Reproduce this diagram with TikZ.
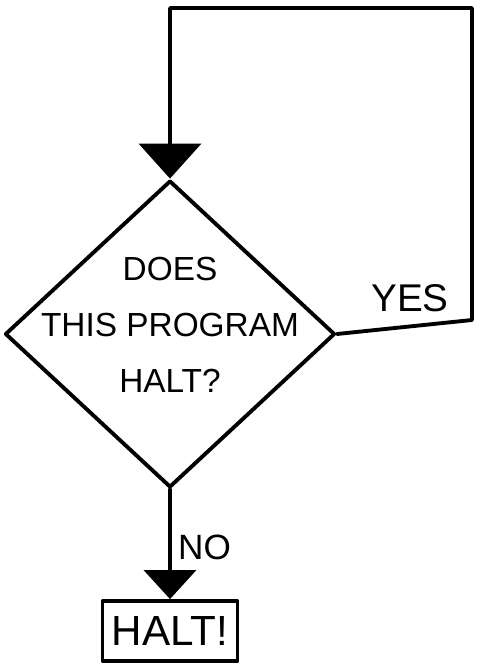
\documentclass[tikz,border=0pt]{standalone}
\usepackage{fontspec}
\setmainfont{Liberation Sans}
\usetikzlibrary{arrows.meta, shapes.geometric}

\begin{document}
\begin{tikzpicture}[x=0.02cm, y=-0.02cm,
        pen/.style={line width=2.2pt, line join=round, line cap=round},
        bigtip/.style={-{Triangle[width=1.24cm, length=0.7cm]}},
        smalltip/.style={-{Triangle[width=1.04cm, length=0.58cm]}}]
    \useasboundingbox (0,0) rectangle (483,667);

    % the question
    \node[
        pen, draw, diamond,
        minimum width=6.6cm,
        minimum height=6.14cm,
        inner sep=0pt
    ] (ask) at (170,334) {};
    \node[align=center, font=\fontsize{19}{32}\selectfont] (asktext) at (170,325) {DOES\\THIS PROGRAM\\HALT?};

    % stop box
    \node[
        pen, draw, rectangle,
        minimum width=2.7cm,
        minimum height=1.2cm,
        font=\fontsize{24}{24}\selectfont
    ] (halt) at (ask.south |- 0,631) {HALT!};

    % loop back to the top
    \coordinate (loopbr) at (472,320);
    \coordinate (looptr) at (472,8);
    \coordinate (looptl) at (ask.north |- looptr);
    \draw[pen, bigtip] (ask.east) -- (loopbr) -- (looptr) -- (looptl) -- (ask.north);
    \draw[pen, smalltip] (ask.south) -- (halt.north);

    \node[font=\fontsize{22}{22}\selectfont] (yes) at (410,298) {YES};
    \node[anchor=west, font=\fontsize{20}{20}\selectfont] (no) at (172,547) {NO};
\end{tikzpicture}
\end{document}
